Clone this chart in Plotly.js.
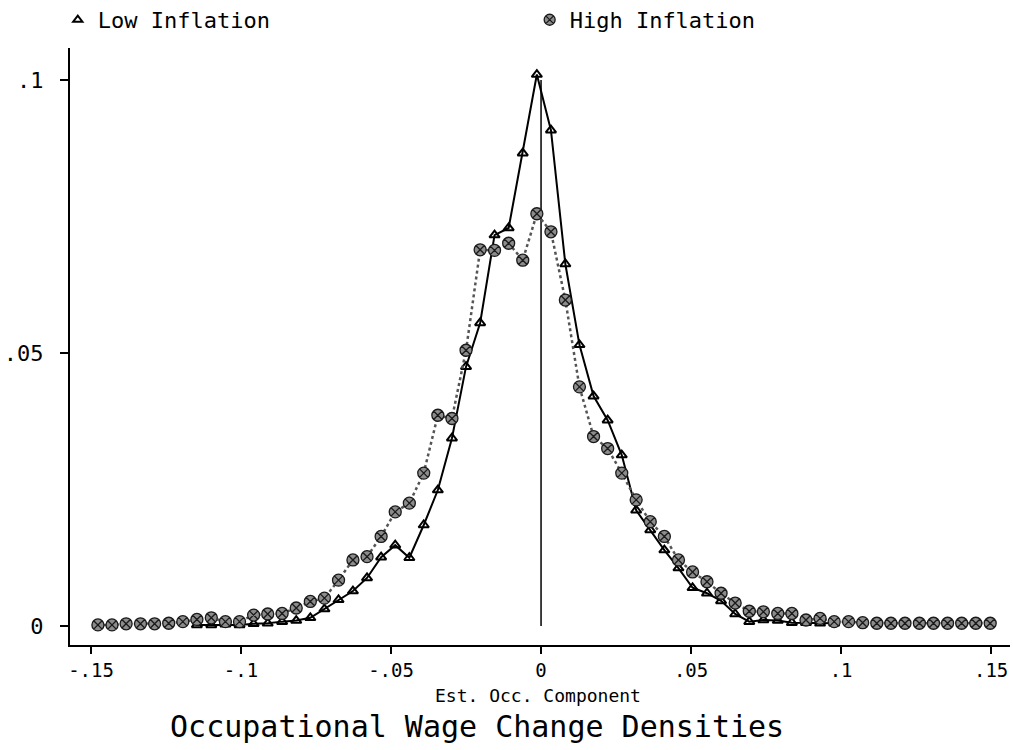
<!DOCTYPE html>
<html>
<head>
<meta charset="utf-8">
<script src="https://cdn.plot.ly/plotly-3.0.1.min.js"></script>
<style>html,body{margin:0;padding:0;background:#fff;}#chart{width:1013px;height:750px;}</style>
</head>
<body>
<div id="chart"></div>
<script>
// Grid of estimation points (Est. Occ. Component)
const xHigh = [-0.1477,-0.1430,-0.1383,-0.1335,-0.1288,-0.1241,-0.1194,-0.1147,-0.1099,-0.1052,
  -0.1005,-0.0958,-0.0911,-0.0863,-0.0816,-0.0769,-0.0722,-0.0675,-0.0627,-0.0580,
  -0.0533,-0.0486,-0.0439,-0.0391,-0.0344,-0.0297,-0.0250,-0.0203,-0.0155,-0.0108,
  -0.0061,-0.0014,0.0033,0.0081,0.0128,0.0175,0.0222,0.0269,0.0317,0.0364,
  0.0411,0.0458,0.0505,0.0553,0.0600,0.0647,0.0694,0.0741,0.0789,0.0836,
  0.0883,0.0930,0.0977,0.1025,0.1072,0.1119,0.1166,0.1213,0.1261,0.1308,
  0.1355,0.1402,0.1449,0.1497];
const yHigh = [0.0002,0.0002,0.0004,0.0004,0.0004,0.0005,0.0008,0.0012,0.0015,0.0008,
  0.0008,0.0020,0.0022,0.0023,0.0033,0.0045,0.0051,0.0084,0.0121,0.0127,
  0.0164,0.0209,0.0225,0.0280,0.0386,0.0380,0.0505,0.0689,0.0688,0.0701,
  0.0670,0.0755,0.0722,0.0597,0.0438,0.0347,0.0325,0.0280,0.0231,0.0191,
  0.0164,0.0121,0.0099,0.0081,0.0060,0.0042,0.0027,0.0026,0.0023,0.0023,
  0.0011,0.0014,0.0008,0.0008,0.0006,0.0005,0.0005,0.0005,0.0005,0.0005,
  0.0005,0.0005,0.0005,0.0005];

const xLow = [-0.1147,-0.1099,-0.1052,-0.1005,-0.0958,-0.0911,-0.0863,-0.0816,-0.0769,-0.0722,
  -0.0675,-0.0627,-0.0580,-0.0533,-0.0486,-0.0439,-0.0391,-0.0344,-0.0297,-0.0250,
  -0.0203,-0.0155,-0.0108,-0.0061,-0.0014,0.0033,0.0081,0.0128,0.0175,0.0222,
  0.0269,0.0317,0.0364,0.0411,0.0458,0.0505,0.0553,0.0600,0.0647,0.0694,
  0.0741,0.0789,0.0836,0.0883,0.0930,0.0977];
const yLow = [0.0002,0.0002,0.0003,0.0002,0.0004,0.0005,0.0008,0.0010,0.0015,0.0031,
  0.0048,0.0064,0.0088,0.0126,0.0148,0.0125,0.0185,0.0249,0.0344,0.0475,
  0.0555,0.0716,0.0729,0.0866,0.1010,0.0908,0.0663,0.0515,0.0421,0.0377,
  0.0313,0.0212,0.0176,0.0139,0.0106,0.0070,0.0060,0.0046,0.0022,0.0008,
  0.0011,0.0010,0.0006,0.0006,0.0005,0.0005];

const xTickVals = [-0.15,-0.1,-0.05,0,0.05,0.1,0.15];
const xTickText = ['-.15','-.1','-.05','0','.05','.1','.15'];
const yTickVals = [0,0.05,0.1];
const yTickText = ['0','.05','.1'];
const refLineX = 0;
const refLineTop = 0.1;

const FONT = '"DejaVu Sans Mono", "Liberation Mono", monospace';

const traces = [
  {x: xLow, y: yLow, mode: 'lines+markers', name: 'Low Inflation', showlegend: false,
   line: {color: '#000', width: 2},
   marker: {symbol: 'triangle-up-open', size: 9, color: '#000', line: {width: 2, color: '#000'}}},
  {x: xHigh, y: yHigh, mode: 'lines+markers', name: 'High Inflation', showlegend: false,
   line: {color: '#555', width: 2.5, dash: 'dot'},
   marker: {symbol: 'circle-x', size: 12, color: '#8c8c8c', line: {width: 1.3, color: '#1a1a1a'}}},
  {x: [null], y: [null], mode: 'markers', name: 'Low Inflation', showlegend: true, legend: 'legend',
   marker: {symbol: 'triangle-up-open', size: 8, color: '#000', line: {width: 2, color: '#000'}}},
  {x: [null], y: [null], mode: 'markers', name: 'High Inflation', showlegend: true, legend: 'legend2',
   marker: {symbol: 'circle-x', size: 11, color: '#8c8c8c', line: {width: 1.3, color: '#1a1a1a'}}}
];

const legendCommon = {orientation: 'h', xanchor: 'left', yanchor: 'middle', y: 1.047,
  font: {size: 22, family: FONT, color: '#000'}, bgcolor: 'rgba(0,0,0,0)', itemwidth: 30};

const layout = {
  width: 1013, height: 750,
  margin: {l: 70, r: 3, t: 48, b: 105, autoexpand: false},
  paper_bgcolor: '#fff', plot_bgcolor: '#fff',
  font: {family: FONT, color: '#000', size: 20},
  showlegend: true,
  legend: Object.assign({}, legendCommon, {x: -0.013}),
  legend2: Object.assign({}, legendCommon, {x: 0.489}),
  title: {text: 'Occupational Wage Change Densities', font: {size: 30, family: FONT, color: '#000'},
    x: 0.471, xref: 'container', xanchor: 'center', y: 0.031, yref: 'container', yanchor: 'middle'},
  xaxis: {range: [-0.157, 0.1563], tickvals: xTickVals, ticktext: xTickText,
    showline: true, linecolor: '#000', linewidth: 2, mirror: false,
    ticks: 'outside', ticklen: 7, tickwidth: 1.5, tickcolor: '#000',
    showgrid: false, zeroline: false, tickfont: {size: 19, family: FONT}},
  yaxis: {range: [-0.00348, 0.10586], tickvals: yTickVals, ticktext: yTickText,
    showline: true, linecolor: '#000', linewidth: 2, mirror: false,
    ticks: 'outside', ticklen: 8, tickwidth: 1.5, tickcolor: '#000',
    ticklabelstandoff: 12,
    showgrid: false, zeroline: false, tickfont: {size: 22, family: FONT}},
  annotations: [{text: 'Est. Occ. Component', xref: 'paper', yref: 'paper', x: 0.498, y: -0.0854,
    xanchor: 'center', yanchor: 'middle', showarrow: false, font: {size: 18, family: FONT, color: '#000'}}],
  shapes: [{type: 'line', xref: 'x', yref: 'y', x0: refLineX, x1: refLineX, y0: 0, y1: refLineTop,
    line: {color: '#000', width: 1.5}, layer: 'below'}]
};

Plotly.newPlot('chart', traces, layout, {displayModeBar: false, staticPlot: true});
</script>
</body>
</html>
